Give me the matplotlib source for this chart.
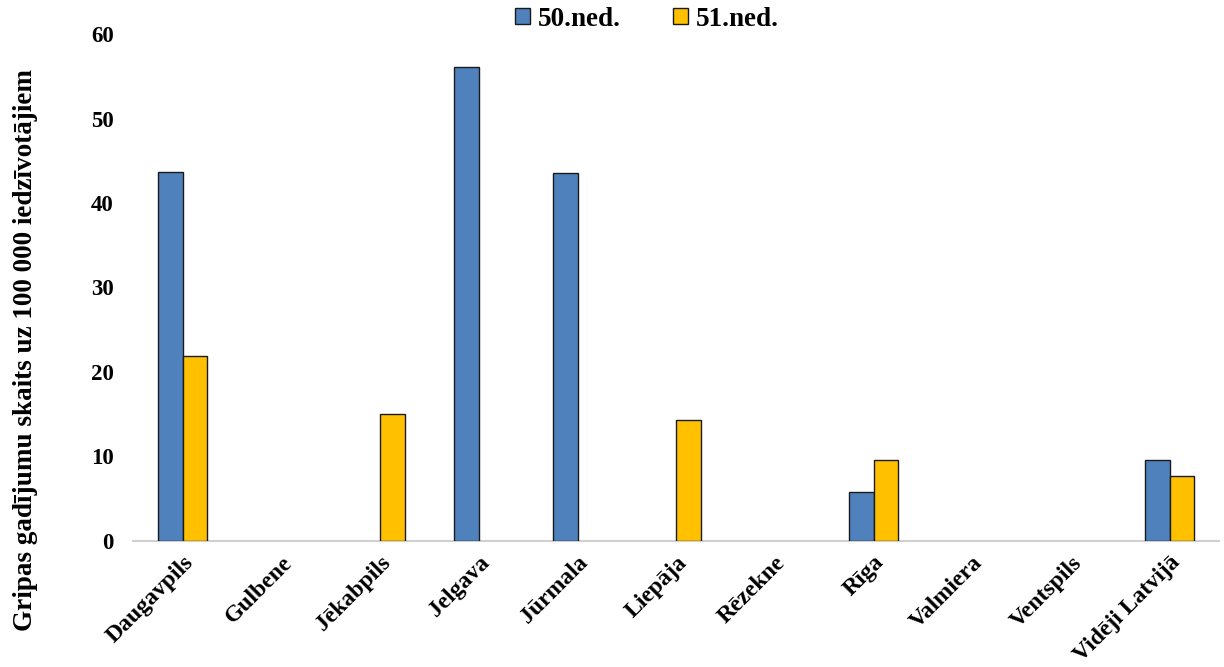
import numpy as np
import matplotlib
matplotlib.use("Agg")
from matplotlib import pyplot as plt

regions = ["Daugavpils", "Gulbene", "Jēkabpils", "Jelgava", "Jūrmala", "Liepāja",
           "Rēzekne", "Rīga", "Valmiera", "Ventspils", "Vidēji Latvijā"]
week50 = [43.7, 0, 0, 56.1, 43.6, 0, 0, 5.8, 0, 0, 9.6]
week51 = [21.9, 0, 15.0, 0, 0, 14.3, 0, 9.6, 0, 0, 7.7]
series_names = ["50.ned.", "51.ned."]

plt.rcParams['font.family'] = ['Liberation Serif', 'DejaVu Serif']
plt.rcParams['font.weight'] = 'bold'

fig = plt.figure(figsize=(12.24, 6.67), dpi=100)
ax = fig.add_axes([0.109, 0.189, 0.887, 0.76])

x = np.arange(len(regions))
w = 0.25
for vals, off, col, name in [(week50, -w / 2, "#4F81BD", series_names[0]),
                             (week51, w / 2, "#FFC000", series_names[1])]:
    vals = np.array(vals)
    mask = vals > 0
    ax.bar(x[mask] + off, vals[mask], width=w, color=col, edgecolor="#1a1a1a",
           linewidth=1.0, label=name, zorder=3)

ax.set_xlim(-0.5, len(regions) - 0.5)
ax.set_ylim(0, 60)
ax.set_yticks(range(0, 61, 10))
ax.set_xticks(x)
ax.set_xticklabels(regions, rotation=45, ha="right", rotation_mode="anchor",
                   fontsize=17, fontweight="bold")
ax.tick_params(axis="y", labelsize=16.5, length=0, pad=14)
ax.tick_params(axis="x", length=0, pad=8)
for s in ["top", "right", "left"]:
    ax.spines[s].set_visible(False)
ax.spines["bottom"].set_color("#d0d0d0")
ax.spines["bottom"].set_linewidth(1.5)

ax.set_ylabel("Gripas gadījumu skaits uz 100 000 iedzīvotājiem", fontsize=19.5,
              fontweight="bold")
ax.yaxis.set_label_coords(-0.088, 0.377)

ax.legend(loc="center", bbox_to_anchor=(0.473, 1.029), ncol=2, frameon=False,
          fontsize=19.5, handlelength=0.55, handleheight=0.55, columnspacing=1.9,
          handletextpad=0.3, borderaxespad=0)

fig.savefig("out.png", dpi=100)
